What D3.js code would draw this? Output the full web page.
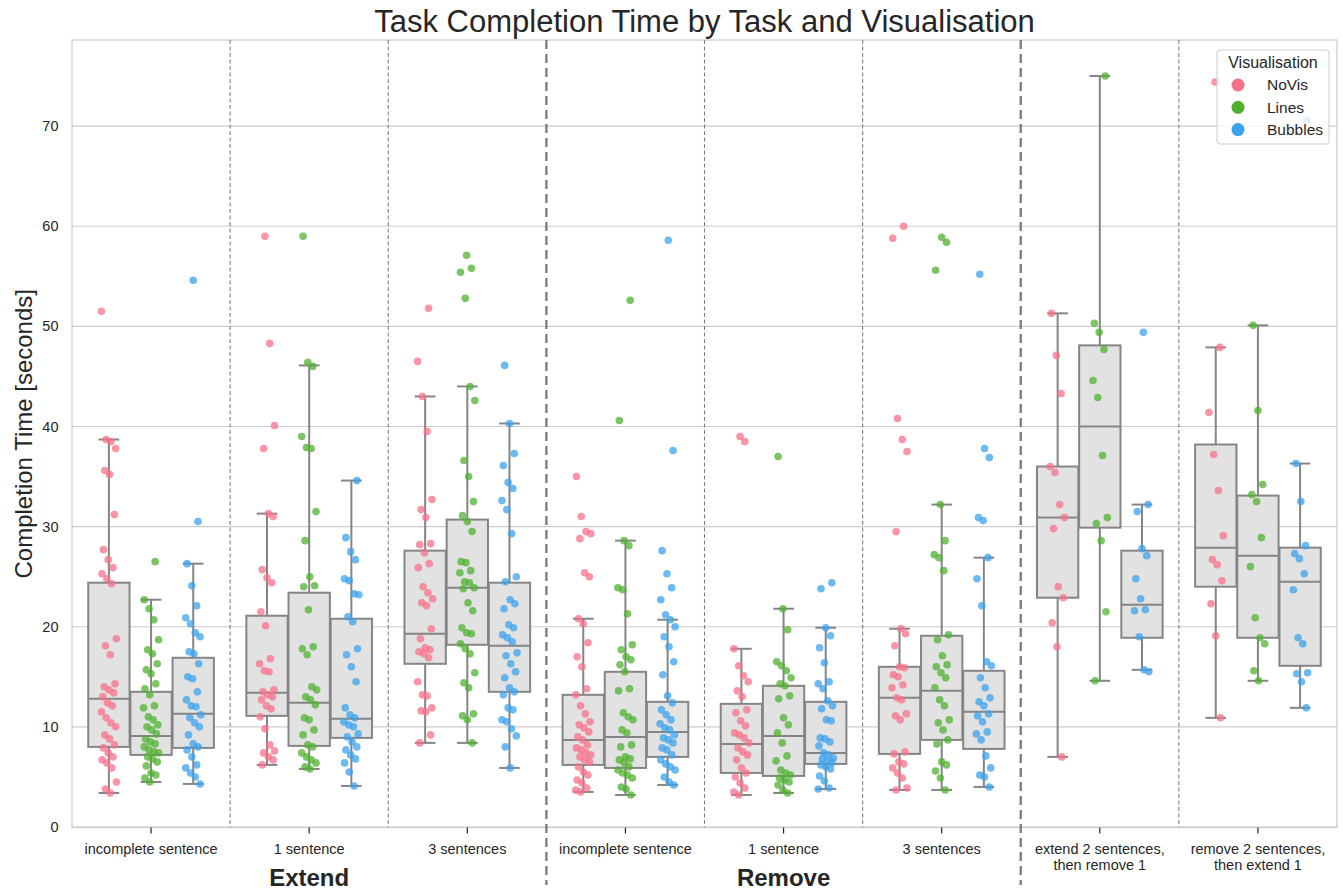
<!DOCTYPE html>
<html><head><meta charset="utf-8">
<script src="https://cdn.jsdelivr.net/npm/d3@7"></script>
<style>body{margin:0;background:#fff;}svg{display:block;font-family:"Liberation Sans",Arial,sans-serif;}</style>
</head><body><svg id="chart" width="1343" height="890"></svg>
<script>
// ---- data ----
const tasks = ["incomplete sentence","1 sentence","3 sentences","incomplete sentence","1 sentence","3 sentences","extend 2 sentences,\nthen remove 1","remove 2 sentences,\nthen extend 1"];
const taskGroups = [{label:"Extend", at:1},{label:"Remove", at:4}];
const visualisations = ["NoVis","Lines","Bubbles"];
const colors = ["#f77189","#50b131","#3ba3ec"];
const yTicks = [0,10,20,30,40,50,60,70];

// box stats: [lower whisker, q1, median, q3, upper whisker]
const novisBox = [[3.4,8.0,12.8,24.4,38.7],[6.2,11.1,13.4,21.1,31.3],[8.4,16.3,19.3,27.6,43.0],[3.5,6.2,8.7,13.2,20.8],[3.2,5.4,8.3,12.3,17.8],[3.7,7.3,12.9,16.0,19.8],[7.0,22.9,30.9,36.0,51.3],[10.9,24.0,27.9,38.2,47.9]];
const linesBox = [[4.5,7.2,9.1,13.5,22.7],[5.8,8.1,12.4,23.4,46.1],[8.4,18.2,23.9,30.7,44.0],[3.2,5.9,9.0,15.5,28.6],[3.4,5.1,9.1,14.1,21.8],[3.7,8.7,13.6,19.1,32.2],[14.6,29.9,40.0,48.1,75.0],[14.6,18.9,27.1,33.1,50.1]];
const bubblesBox = [[4.3,7.9,11.3,16.9,26.3],[4.1,8.9,10.8,20.8,34.6],[5.9,13.5,18.1,24.4,40.3],[4.2,7.0,9.5,12.5,20.7],[3.8,6.3,7.4,12.5,19.9],[4.0,7.8,11.5,15.6,26.9],[15.7,18.9,22.2,27.6,32.2],[11.9,16.1,24.5,27.9,36.3]];

const novisPoints = [
 [51.5,38.7,38.5,37.8,35.6,35.2,31.2,27.7,26.7,25.9,25.3,24.8,24.3,18.8,18.1,17.2,14.3,14.0,13.7,13.4,13.0,12.4,12.1,11.5,10.9,10.4,10.0,9.2,8.8,8.2,7.9,7.4,7.0,6.7,6.4,5.9,4.5,3.8,3.4],
 [59.0,48.3,40.1,37.8,31.3,31.0,25.7,24.9,24.4,21.5,20.1,16.8,16.3,15.6,15.5,13.7,13.5,13.2,13.0,12.7,12.1,11.8,11.0,9.8,8.2,7.6,7.4,7.0,6.7,6.2],
 [51.8,46.5,43.0,39.5,32.7,31.7,30.9,28.3,28.2,27.4,26.3,25.9,24.0,23.4,22.8,22.4,22.1,19.8,18.8,17.9,17.7,17.5,17.3,16.9,14.5,13.2,13.1,11.9,11.6,11.5,9.2,8.4],
 [35.0,31.0,29.5,29.3,28.8,25.4,25.0,20.8,20.3,18.4,17.0,16.0,13.8,13.2,12.1,11.3,10.5,10.2,9.9,9.5,9.0,8.7,8.2,7.9,7.7,7.4,7.2,7.0,6.7,6.5,6.0,5.5,5.2,4.7,4.4,3.9,3.7,3.5],
 [39.0,38.5,17.8,16.1,15.1,14.5,13.6,13.0,11.7,11.4,10.6,10.1,9.4,9.2,8.9,8.4,7.9,7.5,7.2,6.7,5.9,5.4,5.0,4.4,3.9,3.5,3.2],
 [60.0,58.8,40.8,38.7,37.5,29.5,19.8,19.3,18.1,16.0,15.9,15.2,15.0,14.2,13.9,12.9,12.7,11.3,11.1,10.7,7.5,7.3,6.5,6.3,5.9,5.4,4.9,3.9,3.7],
 [51.3,47.1,43.3,36.0,35.4,32.2,30.9,29.8,24.0,22.9,20.4,18.0,7.0],
 [74.4,47.9,41.4,37.2,33.6,29.1,26.7,26.2,24.6,22.3,19.1,10.9]
];
const linesPoints = [
 [26.5,22.7,21.8,20.7,18.7,17.7,17.3,16.3,15.7,15.3,14.3,13.8,13.2,12.1,11.9,11.0,10.7,10.2,10.0,9.7,9.3,8.8,8.5,8.3,8.0,7.7,7.5,7.4,7.0,6.8,6.5,6.1,5.4,5.2,4.9,4.5],
 [59.0,46.4,46.0,39.0,37.9,37.8,31.5,28.6,25.0,24.1,24.0,21.7,18.0,17.8,17.2,14.0,13.7,13.0,12.7,12.2,10.9,10.7,9.7,9.2,8.2,8.0,7.4,7.0,6.7,6.4,6.0,5.8],
 [57.1,55.8,55.4,52.8,44.0,42.6,36.6,35.0,32.5,31.1,30.5,29.5,26.5,26.4,25.6,25.4,24.5,24.4,23.9,23.8,22.4,21.6,19.9,19.4,19.3,18.3,17.8,17.3,15.4,14.4,13.9,11.3,11.1,10.7,8.4],
 [52.6,40.6,28.6,28.1,23.9,23.7,21.3,18.2,17.7,17.0,16.7,16.2,15.5,13.8,13.6,11.4,11.0,10.7,9.7,9.4,8.2,8.0,7.0,6.8,6.7,6.4,6.0,5.7,5.4,5.2,4.9,4.0,3.8,3.2],
 [37.0,21.8,19.7,16.5,16.1,15.6,14.9,14.3,14.1,13.1,12.8,10.9,10.2,9.4,8.4,7.1,6.6,5.7,5.4,5.2,4.9,4.7,4.5,4.2,3.7,3.4],
 [58.9,58.4,55.6,32.2,28.6,27.2,26.9,25.6,19.2,18.7,17.1,16.2,16.0,15.4,14.9,13.9,12.7,12.1,10.7,10.4,9.7,8.7,8.3,6.5,6.2,5.6,4.9,3.7],
 [75.0,50.3,49.4,47.7,44.6,42.9,37.1,30.9,30.3,28.6,21.5,14.6],
 [50.1,41.6,34.2,33.2,32.5,28.9,26.0,20.9,18.9,18.3,15.6,14.6]
];
const bubblesPoints = [
 [54.6,30.5,26.3,24.1,22.1,20.9,20.3,19.4,19.0,17.5,17.3,16.3,15.0,14.8,13.5,12.7,12.1,12.0,11.2,10.9,10.4,10.0,9.2,8.3,8.0,7.7,7.0,6.2,5.9,5.4,5.0,4.3],
 [34.6,28.9,27.5,26.7,24.8,24.6,23.3,23.2,21.0,20.5,17.8,17.2,16.0,14.5,11.9,11.2,10.9,10.5,10.2,10.0,9.3,9.0,8.5,8.0,7.7,7.2,6.8,6.4,5.5,4.1],
 [46.1,40.3,37.3,36.1,34.4,33.8,32.6,31.7,29.3,25.0,24.5,22.7,22.3,21.8,20.2,19.9,19.2,18.9,18.5,17.4,17.1,16.3,15.5,14.9,13.9,13.5,13.2,11.9,11.7,10.7,10.5,9.8,9.1,8.0,5.9],
 [58.6,37.6,27.6,25.3,23.9,22.7,21.2,20.7,20.0,19.0,18.0,16.5,15.2,13.1,12.4,11.7,11.2,10.7,10.3,9.9,9.7,9.2,8.9,8.7,8.4,7.9,7.7,7.2,6.7,6.3,6.0,5.7,5.0,4.5,4.2],
 [24.4,23.8,19.9,19.1,17.9,16.4,14.5,14.3,13.8,12.6,12.1,11.8,10.7,10.6,8.9,8.8,8.5,8.1,7.4,7.2,6.9,6.8,6.6,6.4,6.2,6.0,5.8,5.1,4.6,3.9,3.8],
 [55.2,37.8,36.9,30.9,30.6,26.9,24.8,22.1,16.5,16.1,14.9,13.9,12.9,12.5,12.1,11.3,11.1,10.5,9.5,9.3,8.7,7.1,5.9,5.2,5.0,4.0],
 [49.4,32.2,31.5,27.8,27.1,24.8,22.8,21.7,21.6,19.0,15.7,15.5],
 [70.6,36.3,32.5,28.1,27.3,26.8,25.3,23.7,18.9,18.3,15.4,15.3,14.5,11.9]
];

// ---- layout ----
const svg = d3.select("#chart");
const M = {left:72, right:1337, top:40, bottom:827.5};
const textCol = "#262626";
const x = d3.scaleBand().domain(d3.range(tasks.length)).range([M.left, M.right]).paddingInner(0).paddingOuter(0);
const sub = d3.scaleBand().domain(d3.range(3)).range([0.1*x.bandwidth(), 0.9*x.bandwidth()]);
const y = d3.scaleLinear().domain([-0.05, 78.6]).range([M.bottom, M.top]);

// grid
svg.append("g").selectAll("line").data(yTicks).join("line")
  .attr("x1", M.left).attr("x2", M.right)
  .attr("y1", d=>y(d)).attr("y2", d=>y(d))
  .attr("stroke", "#cccccc").attr("stroke-width", 1.1);

// y tick labels
svg.append("g").selectAll("text").data(yTicks).join("text")
  .attr("x", 58.5).attr("y", d=>y(d)).attr("dy","0.35em")
  .attr("text-anchor","end").attr("font-size", 14.5).attr("fill", textCol)
  .text(d=>d);

// frame
svg.append("rect").attr("x", M.left).attr("y", M.top).attr("width", M.right-M.left).attr("height", M.bottom-M.top)
  .attr("fill","none").attr("stroke","#cccccc").attr("stroke-width",1.25);

// dividers
for (let i=1;i<tasks.length;i++){
  const thick = (i===3 || i===6);
  svg.append("line").attr("x1", x(i)).attr("x2", x(i))
    .attr("y1", M.top).attr("y2", thick ? 885 : M.bottom)
    .attr("stroke", "#7f7f7f")
    .attr("stroke-width", thick ? 2.4 : 1.1)
    .attr("stroke-dasharray", thick ? "9,5" : "4,2.5");
}

const boxes = [novisBox, linesBox, bubblesBox];
const points = [novisPoints, linesPoints, bubblesPoints];
const boxW = sub.bandwidth()*0.98;
const boxStroke = "#858585";

// boxes
const gb = svg.append("g");
for (let s=0;s<3;s++){
  for (let t=0;t<tasks.length;t++){
    const [lo,q1,med,q3,hi] = boxes[s][t];
    const cx = x(t) + sub(s) + sub.bandwidth()/2;
    const g = gb.append("g").attr("stroke", boxStroke).attr("stroke-width", 2).attr("fill","none");
    g.append("line").attr("x1",cx).attr("x2",cx).attr("y1",y(q3)).attr("y2",y(hi));
    g.append("line").attr("x1",cx).attr("x2",cx).attr("y1",y(q1)).attr("y2",y(lo));
    g.append("line").attr("x1",cx-boxW/4).attr("x2",cx+boxW/4).attr("y1",y(hi)).attr("y2",y(hi));
    g.append("line").attr("x1",cx-boxW/4).attr("x2",cx+boxW/4).attr("y1",y(lo)).attr("y2",y(lo));
    g.append("rect").attr("x",cx-boxW/2).attr("y",y(q3)).attr("width",boxW).attr("height",y(q1)-y(q3)).attr("fill","#e2e2e2");
    g.append("line").attr("x1",cx-boxW/2).attr("x2",cx+boxW/2).attr("y1",y(med)).attr("y2",y(med));
  }
}

// strip points (deterministic jitter)
const gp = svg.append("g");
for (let s=0;s<3;s++){
  for (let t=0;t<tasks.length;t++){
    const cx = x(t) + sub(s) + sub.bandwidth()/2;
    gp.selectAll(null).data(points[s][t]).join("circle")
      .attr("cx", (d,i)=> cx + ((((i*7919 + t*31 + s*17) % 23)/22) - 0.5) * 15)
      .attr("cy", d=>y(d))
      .attr("r", 3.8)
      .attr("fill", colors[s]).attr("fill-opacity", 0.75);
  }
}

// x ticks
const gx = svg.append("g");
tasks.forEach((lab,t)=>{
  const cx = x(t)+x.bandwidth()/2;
  gx.append("line").attr("x1",cx).attr("x2",cx).attr("y1",M.bottom).attr("y2",M.bottom+6).attr("stroke",textCol).attr("stroke-width",1.2);
  lab.split("\n").forEach((ln,k)=>{
    gx.append("text").attr("x",cx).attr("y",M.bottom+26+k*16).attr("text-anchor","middle")
      .attr("font-size",14.5).attr("fill",textCol).text(ln);
  });
});
taskGroups.forEach(g=>{
  svg.append("text").attr("x", x(g.at)+x.bandwidth()/2).attr("y", 886).attr("text-anchor","middle")
    .attr("font-size",24).attr("font-weight","bold").attr("fill",textCol).text(g.label);
});

// title & axis label
svg.append("text").attr("x", (M.left+M.right)/2).attr("y", 32).attr("text-anchor","middle")
  .attr("font-size",31).attr("fill",textCol).text("Task Completion Time by Task and Visualisation");
svg.append("text").attr("transform",`translate(32,${(M.top+M.bottom)/2}) rotate(-90)`).attr("text-anchor","middle")
  .attr("font-size",24).attr("fill",textCol).text("Completion Time [seconds]");

// legend
const lg = svg.append("g");
lg.append("rect").attr("x",1217).attr("y",50).attr("width",112).attr("height",94).attr("rx",3)
  .attr("fill","#ffffff").attr("fill-opacity",0.8).attr("stroke","#cccccc").attr("stroke-width",1);
lg.append("text").attr("x",1273).attr("y",68).attr("text-anchor","middle").attr("font-size",16).attr("fill",textCol).text("Visualisation");
visualisations.forEach((v,i)=>{
  lg.append("circle").attr("cx",1238).attr("cy",85+i*22.3).attr("r",6.5).attr("fill",colors[i]);
  lg.append("text").attr("x",1267).attr("y",85+i*22.3).attr("dy","0.35em").attr("font-size",15.5).attr("fill",textCol).text(v);
});
</script></body></html>
